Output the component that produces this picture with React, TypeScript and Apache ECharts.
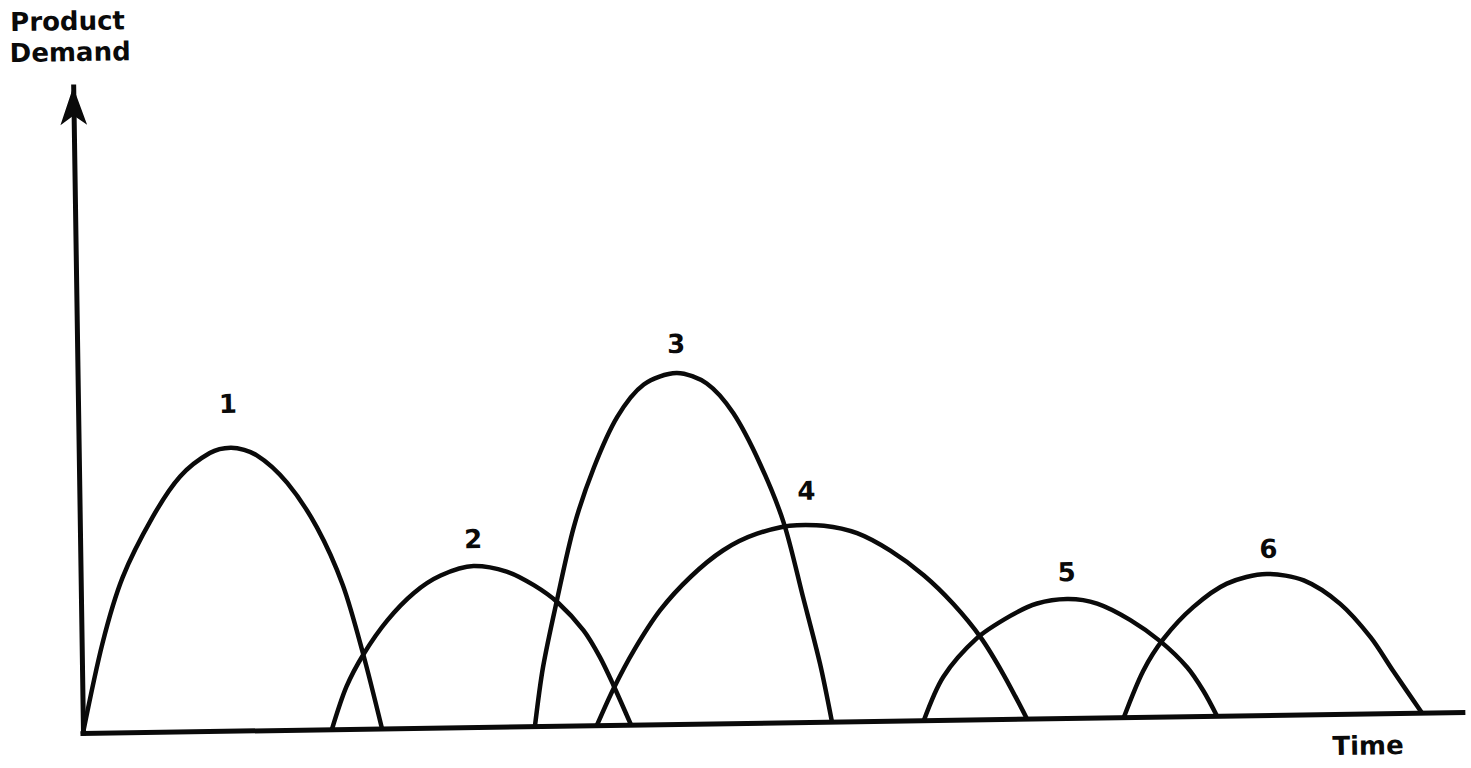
import React, { useEffect, useRef } from "react";
import * as echarts from "echarts";

// Product life-cycle arches: [time, demand]
const curve1: number[][] = [[0, 0], [21, 90], [42, 155], [73, 215], [101, 255], [131, 278], [152, 283], [178, 275], [208, 247], [237, 202], [262, 144], [281, 76], [299, 0]];
const curve2: number[][] = [[249, 0], [264, 42], [282, 75], [306, 108], [333, 135], [360, 152], [393, 161], [426, 155], [453, 141], [477, 123], [502, 95], [518, 68], [531, 40], [548, 0]];
const curve3: number[][] = [[452, 0], [461, 59], [476, 126], [494, 199], [515, 258], [539, 308], [566, 340], [599, 351], [629, 340], [655, 310], [681, 259], [704, 199], [722, 125], [738, 58], [749, 0]];
const curve4: number[][] = [[514, 0], [531, 36], [552, 74], [579, 114], [610, 147], [643, 173], [677, 189], [717, 197], [744, 196], [777, 188], [810, 170], [843, 145], [872, 116], [899, 82], [921, 45], [944, 0]];
const curve5: number[][] = [[841, 0], [861, 43], [895, 81], [929, 103], [956, 115], [986, 119], [1016, 114], [1049, 97], [1079, 75], [1105, 49], [1121, 25], [1134, 0]];
const curve6: number[][] = [[1041, 0], [1061, 46], [1082, 78], [1112, 109], [1146, 132], [1186, 141], [1223, 134], [1259, 110], [1289, 76], [1311, 42], [1339, 0]];

const curves = [curve1, curve2, curve3, curve4, curve5, curve6];
const curveNames = ["1", "2", "3", "4", "5", "6"];
const yAxisTitle = ["Product", "Demand"];
const xAxisTitle = "Time";
const xMax = 1380;
const yMax = 646;

const labelDistance = [30, 13, 15, 20, 13, 11];
const labelOffsetX = [-2, 0, 0, 10, 0, 2];

const INK = "#0a0a0a";
const FONT = "DejaVu Sans";

export default function App() {
  const ref = useRef<HTMLDivElement>(null);
  useEffect(() => {
    if (!ref.current) return;
    const chart = echarts.init(ref.current, null, { renderer: "svg" });
    const series = curves.map((c, i) => ({
      type: "line",
      name: curveNames[i],
      data: c,
      smooth: 0.3,
      showSymbol: false,
      symbol: "none",
      lineStyle: { color: INK, width: 4.5, cap: "round", join: "round" },
      markPoint: {
        symbol: "circle",
        symbolSize: 2,
        itemStyle: { color: "rgba(0,0,0,0)" },
        label: {
          show: true,
          position: "top",
          distance: labelDistance[i],
          offset: [labelOffsetX[i], 0],
          formatter: curveNames[i],
          color: INK,
          fontFamily: FONT,
          fontWeight: "bold",
          fontSize: 26,
        },
        data: [{ type: "max", valueDim: "y" }],
      },
      z: 3,
    }));
    chart.setOption({
      animation: false,
      backgroundColor: "transparent",
      grid: { left: 83, right: 8, top: 87, bottom: 67 },
      xAxis: {
        type: "value",
        min: 0,
        max: xMax,
        axisLine: { show: true, onZero: false, lineStyle: { color: INK, width: 5, cap: "square" } },
        axisTick: { show: false },
        axisLabel: { show: false },
        splitLine: { show: false },
      },
      yAxis: {
        type: "value",
        min: 0,
        max: yMax,
        axisLine: {
          show: true,
          onZero: false,
          symbol: ["none", "arrow"],
          symbolSize: [20, 38],
          lineStyle: { color: INK, width: 5, cap: "square" },
        },
        axisTick: { show: false },
        axisLabel: { show: false },
        splitLine: { show: false },
      },
      graphic: [
        {
          type: "text",
          x: 21,
          y: 21,
          style: { text: yAxisTitle[0], fill: INK, font: `bold 26px "${FONT}"`, align: "left", verticalAlign: "middle" },
        },
        {
          type: "text",
          x: 20,
          y: 52,
          style: { text: yAxisTitle[1], fill: INK, font: `bold 26px "${FONT}"`, align: "left", verticalAlign: "middle" },
        },
        {
          type: "text",
          x: 1332,
          y: 765,
          style: { text: xAxisTitle, fill: INK, font: `bold 26px "${FONT}"`, align: "left", verticalAlign: "middle" },
        },
      ],
      series,
    });
    return () => chart.dispose();
  }, []);
  return (
    <div
      style={{
        position: "fixed",
        left: 0,
        top: 0,
        width: 1471,
        height: 768,
        overflow: "hidden",
        background: "#fff",
      }}
    >
      <div
        ref={ref}
        style={{
          position: "absolute",
          left: 0,
          top: 0,
          width: 1471,
          height: 800,
          transform: "rotate(-0.87deg)",
          transformOrigin: "83px 733px",
        }}
      />
    </div>
  );
}
